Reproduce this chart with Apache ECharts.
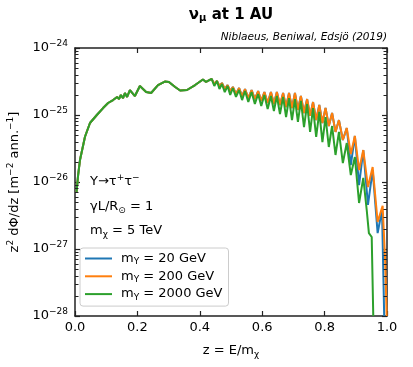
<!DOCTYPE html>
<html><head><meta charset="utf-8">
<script src="https://cdn.jsdelivr.net/npm/echarts@6/dist/echarts.min.js"></script>
<style>html,body{margin:0;padding:0;background:#fff}#c{width:413px;height:367px}</style>
</head><body><div id="c"></div>
<script>
// ---------- data ----------
// shared low-z part (all three curves coincide)
const zCommon = [0.005,0.010,0.016,0.032,0.048,0.070,0.090,0.106,0.122,0.135,0.141,0.147,0.154,0.160,0.167,0.176,0.192,0.208,0.228,0.244,0.266,0.288,0.301,0.321,0.337,0.359,0.385,0.410,0.420];
const vCommon = [7.1e-27,1.27e-26,2.13e-26,4.74e-26,7.6e-26,1.0e-25,1.27e-25,1.51e-25,1.67e-25,1.86e-25,1.73e-25,1.99e-25,1.79e-25,2.13e-25,1.86e-25,2.36e-25,1.92e-25,2.71e-25,2.20e-25,2.13e-25,2.80e-25,3.16e-25,3.11e-25,2.62e-25,2.32e-25,2.36e-25,2.80e-25,3.39e-25,3.11e-25];
// oscillating part: peaks and troughs
const zOsc = [0.438,0.4465,0.455,0.463,0.471,0.480,0.489,0.4975,0.506,0.516,0.526,0.5355,0.545,0.5555,0.566,0.5765,0.587,0.597,0.607,0.6175,0.628,0.6375,0.647,0.657,0.667,0.6765,0.686,0.6955,0.705,0.7145,0.724,0.734,0.744,0.7535,0.763,0.773,0.783,0.793,0.803,0.8135,0.824,0.835,0.846,0.8585,0.871,0.884,0.897,0.9105,0.924];
const vOsc200 = [3.45e-25,2.90e-25,3.22e-25,2.71e-25,3.00e-25,2.44e-25,2.80e-25,2.28e-25,2.62e-25,2.06e-25,2.53e-25,1.92e-25,2.44e-25,1.79e-25,2.36e-25,1.73e-25,2.28e-25,1.62e-25,2.20e-25,1.51e-25,2.20e-25,1.46e-25,2.20e-25,1.41e-25,2.13e-25,1.32e-25,2.13e-25,1.27e-25,2.13e-25,1.19e-25,1.92e-25,1.07e-25,1.73e-25,9.7e-26,1.56e-25,8.4e-26,1.41e-25,7.6e-26,1.27e-25,6.85e-26,1.07e-25,5.6e-26,8.4e-26,4.24e-26,6.4e-26,2.62e-26,4.86e-26,1.51e-26,3.0e-26];
const vOsc20 = [3.45e-25,2.90e-25,3.22e-25,2.71e-25,3.00e-25,2.44e-25,2.80e-25,2.28e-25,2.62e-25,2.06e-25,2.53e-25,1.92e-25,2.44e-25,1.79e-25,2.36e-25,1.73e-25,2.28e-25,1.62e-25,2.20e-25,1.51e-25,2.20e-25,1.46e-25,2.20e-25,1.41e-25,2.13e-25,1.32e-25,2.13e-25,1.27e-25,2.13e-25,1.19e-25,1.92e-25,1.07e-25,1.73e-25,9.7e-26,1.56e-25,8.4e-26,1.41e-25,7.6e-26,1.27e-25,6.85e-26,1.07e-25,5.6e-26,8.4e-26,4.24e-26,6.4e-26,1.79e-26,4.86e-26,9.0e-27,3.0e-26];
const vOsc2000 = [3.45e-25,2.71e-25,3.22e-25,2.44e-25,2.90e-25,2.20e-25,2.71e-25,1.99e-25,2.53e-25,1.86e-25,2.36e-25,1.67e-25,2.28e-25,1.56e-25,2.20e-25,1.46e-25,2.06e-25,1.36e-25,1.99e-25,1.23e-25,1.92e-25,1.15e-25,1.92e-25,1.035e-25,1.86e-25,9.3e-26,1.79e-25,8.4e-26,1.73e-25,7.9e-26,1.62e-25,6.6e-26,1.46e-25,5.6e-26,1.27e-25,4.7e-26,1.11e-25,3.95e-26,9.3e-26,3.33e-26,6.85e-26,2.53e-26,5.6e-26,1.92e-26,3.82e-26,1.27e-26,2.36e-26,4.86e-27,1.15e-26];
// end points, where each curve falls off the bottom of the axis (1e-28)
const zTail20 = [0.939,0.954,0.970,0.984,0.991];
const vTail20 = [4.54e-27,1.51e-26,1.73e-27,3.82e-27,1e-28];
const zTail200 = [0.939,0.954,0.970,0.986,0.994,0.999];
const vTail200 = [8.4e-27,1.67e-26,2.53e-27,4.4e-27,6.85e-28,1e-28];
const zTail2000 = [0.935,0.942,0.951,0.956];
const vTail2000 = [3.82e-27,1.73e-27,1.51e-27,1e-28];
const seriesNames = ['mY = 20 GeV','mY = 200 GeV','mY = 2000 GeV'];
const legendMass = ['20','200','2000'];
const minorTicks = [2e-28,3e-28,4e-28,5e-28,6e-28,7e-28,8e-28,9e-28,2e-27,3e-27,4e-27,5e-27,6e-27,7e-27,8e-27,9e-27,2e-26,3e-26,4e-26,5e-26,6e-26,7e-26,8e-26,9e-26,2e-25,3e-25,4e-25,5e-25,6e-25,7e-25,8e-25,9e-25];

// ---------- build ----------
function pairs(zs, vs){ return zs.map((z,i)=>[z, vs[i]]); }
const d20 = pairs(zCommon,vCommon).concat(pairs(zOsc,vOsc20), pairs(zTail20,vTail20));
const d200 = pairs(zCommon,vCommon).concat(pairs(zOsc,vOsc200), pairs(zTail200,vTail200));
const d2000 = pairs(zCommon,vCommon).concat(pairs(zOsc,vOsc2000), pairs(zTail2000,vTail2000));

const FONT = 'DejaVu Sans';
const INK = '#000';
const AX = '#222';
const sup = {fontSize: 9, fontFamily: FONT, color: INK, padding:[0,0,8,0]};
const sub = {fontSize: 9, fontFamily: FONT, color: INK, padding:[7,0,0,0]};
const norm = {fontSize: 13, fontFamily: FONT, color: INK};
const gsup = {fontSize: 9, fontFamily: FONT, fill: INK, padding:[0,0,8,0]};
const gsub = {fontSize: 9, fontFamily: FONT, fill: INK, padding:[7,0,0,0]};
const gnorm = {fontSize: 13, fontFamily: FONT, fill: INK};

const chart = echarts.init(document.getElementById('c'), null, {renderer:'canvas'});
const lineSeries = (name, data, color) => ({
  name, type:'line', data, xAxisIndex:0, yAxisIndex:0, symbol:'none', showSymbol:false,
  lineStyle:{width:2, color}, itemStyle:{color}, clip:true, animation:false
});
const texts = [
  {type:'text', x:231, y:15, style:{text:'{t|ν}{u|μ}{t| at 1 AU}', align:'center', verticalAlign:'middle',
    rich:{t:{fontSize:15, fontWeight:'bold', fontFamily:FONT, fill:INK}, u:{fontSize:10, fontWeight:'bold', fontFamily:FONT, fill:INK, padding:[7,0,0,0]}}}},
  {type:'text', x:387, y:37.5, style:{text:'Niblaeus, Beniwal, Edsjö (2019)', align:'right', verticalAlign:'middle',
    fontSize:10.5, fontStyle:'italic', fontFamily:FONT, fill:INK}},
  {type:'text', x:90, y:182, style:{text:'{n|Y→τ}{s|+}{n|τ}{s|−}', verticalAlign:'middle', rich:{n:gnorm, s:gsup}}},
  {type:'text', x:90, y:207, style:{text:'{n|γL/R}{b|⊙}{n| = 1}', verticalAlign:'middle', rich:{n:gnorm, b:gsub}}},
  {type:'text', x:90, y:231, style:{text:'{n|m}{b|χ}{n| = 5 TeV}', verticalAlign:'middle', rich:{n:gnorm, b:gsub}}}
];
const tickStyle = {show:true, inside:true, length:5, lineStyle:{color:AX, width:1.2}};
chart.setOption({
  animation:false,
  backgroundColor:'#fff',
  grid:{left:75, right:26, top:48, bottom:51, containLabel:false, outerBoundsMode:'none'},
  xAxis:[{
    type:'value', min:0, max:1, interval:0.2, position:'bottom',
    name:'{n|z = E/m}{b|χ}', nameLocation:'middle', nameGap:27,
    nameTextStyle:{rich:{n:norm, b:sub}},
    axisLine:{show:true, onZero:false, lineStyle:{color:AX, width:1.5}},
    axisTick:tickStyle,
    axisLabel:{margin:5, fontSize:13, fontFamily:FONT, color:INK, formatter:v=>v.toFixed(1)},
    splitLine:{show:false}
  },{
    type:'value', min:0, max:1, interval:0.2, position:'top',
    axisLine:{show:true, onZero:false, lineStyle:{color:AX, width:1.5}},
    axisTick:tickStyle,
    axisLabel:{show:false}, splitLine:{show:false}
  }],
  yAxis:[{
    type:'log', logBase:10, position:'left',
    name:'{n|z}{s|2}{n| dΦ/dz [m}{s|−2}{n| ann.}{s|−1}{n|]}', nameLocation:'middle', nameGap:48,
    nameTextStyle:{rich:{n:norm, s:sup}},
    axisLine:{show:true, onZero:false, lineStyle:{color:AX, width:1.5}},
    axisTick:tickStyle,
    axisLabel:{margin:7, showMinLabel:true, showMaxLabel:true,
      formatter:v=>'{n|10}{s|' + String(Math.round(Math.log10(v))).replace('-','−') + '}',
      rich:{n:norm, s:sup}},
    splitLine:{show:false}
  },{
    type:'log', logBase:10, position:'right',
    axisLine:{show:true, onZero:false, lineStyle:{color:AX, width:1.5}},
    axisTick:tickStyle,
    axisLabel:{show:false}, splitLine:{show:false}
  }],
  legend:{
    data:seriesNames, orient:'vertical', left:80, top:248,
    icon:'rect', itemWidth:27, itemHeight:2, itemGap:3.3,
    padding:[4,6,4,5],
    backgroundColor:'rgba(255,255,255,0.8)', borderColor:'#cccccc', borderWidth:1, borderRadius:3,
    formatter:name=>'{p|}{n|m}{b|Y}{n| = ' + legendMass[seriesNames.indexOf(name)] + ' GeV}',
    textStyle:{rich:{p:{width:4}, n:norm, b:sub}}
  },
  graphic:texts,
  series:[
    lineSeries(seriesNames[0], d20, '#1f77b4'),
    lineSeries(seriesNames[1], d200, '#ff7f0e'),
    lineSeries(seriesNames[2], d2000, '#2ca02c'),
    // invisible helper so the right-hand log axis gets the same decade range
    {type:'line', xAxisIndex:1, yAxisIndex:1, data:minorTicks.map(v=>[0, v]), symbol:'none',
      lineStyle:{opacity:0}, silent:true, animation:false}
  ]
});
// minor ticks on the log axes (left and right), placed through the axis scale
const left = chart.convertToPixel({xAxisIndex:0}, 0);
const right = chart.convertToPixel({xAxisIndex:0}, 1);
const minorEls = [];
minorTicks.forEach(v=>{
  const y = Math.round(chart.convertToPixel({yAxisIndex:0}, v)) + 0.5;
  minorEls.push({type:'line', silent:true, z:10, shape:{x1:left, y1:y, x2:left+3.5, y2:y}, style:{stroke:AX, lineWidth:1}});
  minorEls.push({type:'line', silent:true, z:10, shape:{x1:right-3.5, y1:y, x2:right, y2:y}, style:{stroke:AX, lineWidth:1}});
});
chart.setOption({graphic: texts.concat(minorEls)});
</script></body></html>
